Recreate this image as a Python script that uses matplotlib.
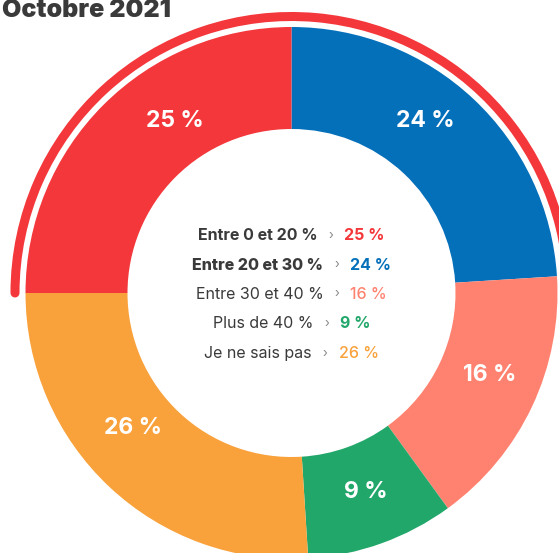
import numpy as np
import matplotlib.pyplot as plt
from matplotlib.patches import Arc

labels = ["Entre 0 et 20 %", "Entre 20 et 30 %", "Entre 30 et 40 %", "Plus de 40 %", "Je ne sais pas"]
values = [25, 24, 16, 9, 26]
colors = ["#F4373B", "#0570BA", "#FF8270", "#22A76A", "#F9A13B"]
label_weights = ["bold", "heavy", "normal", "normal", "normal"]
value_weights = ["bold", "bold", "medium", "bold", "medium"]
# the ring starts at the top with "Entre 20 et 30 %" and runs clockwise
pie_order = [1, 2, 3, 4, 0]
title = "Octobre 2021"

# small nudges of the white % labels inside the ring (pie order)
label_angle_shift = [5.7, 3.0, 0.8, -6.8, -11.2]
label_radius = [219, 214, 211, 207, 209]

plt.rcParams['font.family'] = ['Inter', 'DejaVu Sans']
dark = "#3a3a3a"

fig = plt.figure(figsize=(5.59, 5.53), dpi=100)
ax = fig.add_axes([0, 0, 1, 1])

cx, cy, R = 291.5, 260, 266

wedges, texts, autotexts = ax.pie(
    [values[i] for i in pie_order],
    colors=[colors[i] for i in pie_order],
    startangle=90,
    counterclock=False,
    center=(cx, cy),
    radius=R,
    wedgeprops=dict(width=102, linewidth=0),
    autopct=lambda p: f"{p:.0f} %",
    pctdistance=0.8,
    textprops=dict(color="white", fontsize=16.5, fontweight="bold"),
)

for k, (w, t) in enumerate(zip(wedges, autotexts)):
    mid = np.deg2rad((w.theta1 + w.theta2) / 2 + label_angle_shift[k])
    t.set_position((cx + label_radius[k] * np.cos(mid), cy + label_radius[k] * np.sin(mid) - 1.5))

# thin red arc around the top half
ax.add_patch(Arc((cx, cy), 2 * 276.5, 2 * 276.5, theta1=-10, theta2=180,
                 color=colors[0], linewidth=6.5, capstyle="round"))

ax.set_xlim(0, 559)
ax.set_ylim(0, 553)
ax.set_aspect("equal")
ax.axis("off")

ax.text(2, 536, title, fontsize=18, fontweight="black", color=dark,
        ha="left", va="baseline")

# centre legend, one centred row per answer
renderer = fig.canvas.get_renderer()
gap = 11
row_step = 29.5
for i, (lab, val, col) in enumerate(zip(labels, values, colors)):
    y = cy - 1.5 + (2 - i) * row_step
    t1 = ax.text(0, y, lab, fontsize=11.5, fontweight=label_weights[i], color=dark,
                 ha="left", va="center")
    t2 = ax.text(0, y, "›", fontsize=9, color="#888888", ha="left", va="center")
    t3 = ax.text(0, y, f"{val} %", fontsize=11.5, fontweight=value_weights[i], color=col,
                 ha="left", va="center")
    w = [t.get_window_extent(renderer).width for t in (t1, t2, t3)]
    total = sum(w) + 2 * gap
    x = cx - total / 2
    t1.set_x(x)
    t2.set_x(x + w[0] + gap)
    t3.set_x(x + w[0] + w[1] + 2 * gap)

fig.savefig("out.png", dpi=100)
